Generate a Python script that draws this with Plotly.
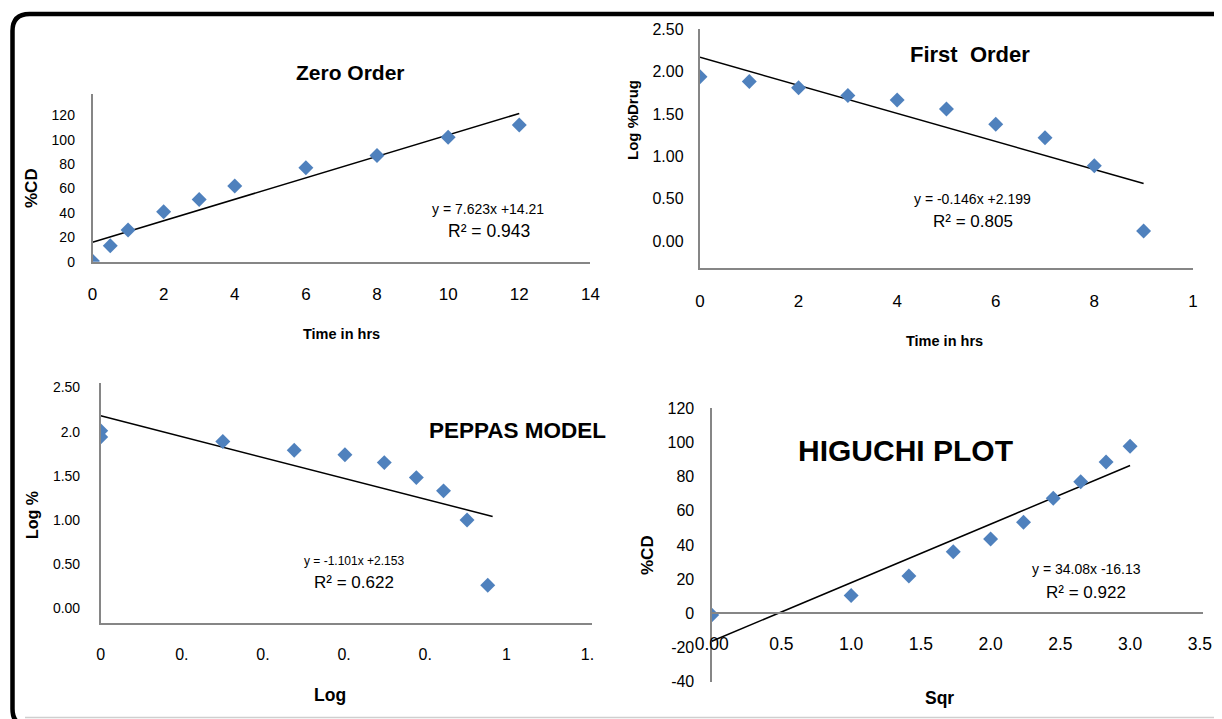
import plotly.graph_objects as go

W, H = 1222, 719
# the page body adds an 8px margin around the figure; pixel positions below are
# page positions, shifted back by this offset when converted to paper units
OX, OY = 8, 8

# ---------------- data ----------------
# Zero order
zero_time = [0, 0.5, 1, 2, 3, 4, 6, 8, 10, 12]
zero_cd = [0.5, 13, 26, 41, 51, 62, 77, 87, 102, 112]
zero_trend_x = [0, 12]
zero_trend_y = [16, 121.5]
zero_xticks = [0, 2, 4, 6, 8, 10, 12, 14]
zero_yticks = [0, 20, 40, 60, 80, 100, 120]

# First order
first_time = [0, 1, 2, 3, 4, 5, 6, 7, 8, 9]
first_logdrug = [1.94, 1.885, 1.81, 1.72, 1.665, 1.56, 1.38, 1.22, 0.89, 0.12]
first_trend_x = [0, 9]
first_trend_y = [2.17, 0.68]
first_xticks = [0, 2, 4, 6, 8, 10]
first_xticktext = ["0", "2", "4", "6", "8", "1"]
first_yticks = [0, 0.5, 1, 1.5, 2, 2.5]
first_yticktext = ["0.00", "0.50", "1.00", "1.50", "2.00", "2.50"]

# Peppas
peppas_logt = [0, 0, 0.301, 0.477, 0.602, 0.699, 0.778, 0.845, 0.903, 0.954]
peppas_log = [2.01, 1.94, 1.89, 1.79, 1.74, 1.65, 1.48, 1.33, 1.00, 0.26]
peppas_trend_x = [0, 0.966]
peppas_trend_y = [2.18, 1.04]
peppas_xticks = [0, 0.2, 0.4, 0.6, 0.8, 1.0, 1.2]
peppas_xticktext = ["0", "0.", "0.", "0.", "0.", "1", "1."]
peppas_yticks = [0, 0.5, 1, 1.5, 2, 2.5]
peppas_yticktext = ["0.00", "0.50", "1.00", "1.50", "2.0", "2.50"]

# Higuchi
higuchi_sqrt = [0, 1.0, 1.414, 1.732, 2.0, 2.236, 2.449, 2.646, 2.828, 3.0]
higuchi_cd = [-1, 10.4, 21.9, 36, 43.5, 53.3, 67.4, 77, 88.6, 97.8]
higuchi_trend_x = [0, 3.0]
higuchi_trend_y = [-16.3, 86.5]
higuchi_xticks = [0, 0.5, 1.0, 1.5, 2.0, 2.5, 3.0, 3.5]
higuchi_xticktext = ["0.00", "0.5", "1.0", "1.5", "2.0", "2.5", "3.0", "3.5"]
higuchi_yticks = [-40, -20, 0, 20, 40, 60, 80, 100, 120]

# ---------------- styling ----------------
SANS = "Liberation Sans, Arial, sans-serif"
BLUE = "#4F81BD"
AXIS_GREY = "#868686"


def fx(x):
    return (x - OX) / W


def fy(y):
    return 1 - (y - OY) / H


def px_x(a, b):
    return [fx(a), fx(b)]


def px_y(top, bottom):
    return [fy(bottom), fy(top)]


fig = go.Figure()

panels = [
    dict(n="", x=zero_time, y=zero_cd, tx=zero_trend_x, ty=zero_trend_y),
    dict(n="2", x=first_time, y=first_logdrug, tx=first_trend_x, ty=first_trend_y),
    dict(n="3", x=peppas_logt, y=peppas_log, tx=peppas_trend_x, ty=peppas_trend_y),
    dict(n="4", x=higuchi_sqrt, y=higuchi_cd, tx=higuchi_trend_x, ty=higuchi_trend_y),
]
for p in panels:
    fig.add_trace(go.Scatter(x=p["tx"], y=p["ty"], mode="lines",
                             line=dict(color="black", width=1.5),
                             xaxis="x" + p["n"], yaxis="y" + p["n"],
                             showlegend=False, hoverinfo="skip"))
    fig.add_trace(go.Scatter(x=p["x"], y=p["y"], mode="markers",
                             marker=dict(symbol="diamond", size=11.5, color=BLUE,
                                         line=dict(width=0)),
                             xaxis="x" + p["n"], yaxis="y" + p["n"],
                             showlegend=False))


def axis(dom, rng, tv, tt, fs, tl, anchor, position=None):
    d = dict(domain=dom, range=rng, anchor=anchor, showgrid=False, zeroline=False,
             showline=True, linecolor=AXIS_GREY, linewidth=1.5,
             ticks="outside", ticklen=tl, tickcolor="rgba(0,0,0,0)",
             tickmode="array", tickvals=tv, ticktext=tt, automargin=False,
             tickfont=dict(family=SANS, size=fs, color="black"), fixedrange=True)
    if position is not None:
        d["position"] = position
    return d


# Higuchi: x axis crosses at y = 0
h_top, h_bot = 408.3, 681.7
h_rng = [-40, 120]
h_zero_px = h_bot - (0 - h_rng[0]) / (h_rng[1] - h_rng[0]) * (h_bot - h_top)

fig.update_layout(
    width=W, height=H, autosize=False,
    margin=dict(l=0, r=0, t=0, b=0, pad=0, autoexpand=False),
    paper_bgcolor="white", plot_bgcolor="rgba(0,0,0,0)",
    xaxis=axis(px_x(92.5, 590.4), [0, 14], zero_xticks, [str(v) for v in zero_xticks], 17, 16.5, "y"),
    yaxis=axis(px_y(94, 261.7), [0, 137.5], zero_yticks, [str(v) for v in zero_yticks], 14, 13, "x"),
    xaxis2=axis(px_x(700, 1192.9), [0, 10], first_xticks, first_xticktext, 17, 16.5, "y2"),
    yaxis2=axis(px_y(29.3, 268.3), [-0.32, 2.5], first_yticks, first_yticktext, 16, 11.5, "x2"),
    xaxis3=axis(px_x(100.7, 591.6), [0, 1.21], peppas_xticks, peppas_xticktext, 16, 16, "y3"),
    yaxis3=axis(px_y(382.7, 623.3), [-0.17, 2.555], peppas_yticks, peppas_yticktext, 14, 16, "x3"),
    xaxis4=axis(px_x(711.7, 1202.6), [0, 3.52], higuchi_xticks, higuchi_xticktext, 17.5, 15, "free",
                position=fy(h_zero_px)),
    yaxis4=axis(px_y(h_top, h_bot), h_rng, higuchi_yticks, [str(v) for v in higuchi_yticks], 16, 12.5, "x4"),
)

annotations = []


def ann(text, x, y, size, bold=False, angle=0, xanchor="center"):
    annotations.append(dict(
        text=("<b>%s</b>" % text) if bold else text,
        x=fx(x), y=fy(y), xref="paper", yref="paper",
        xanchor=xanchor, yanchor="middle", showarrow=False, textangle=angle,
        font=dict(family=SANS, size=size, color="black")))


# Zero order
ann("Zero Order", 350, 73, 21, bold=True)
ann("%CD", 32, 188, 17, bold=True, angle=-90)
ann("Time in hrs", 341, 334, 14.5, bold=True)
ann("y = 7.623x +14.21", 488, 209, 14)
ann("R² = 0.943", 489, 231, 17.5)
# First order
ann("First  Order", 969.5, 54.3, 22, bold=True)
ann("Log %Drug", 632, 120, 15, bold=True, angle=-90)
ann("Time in hrs", 944, 341, 14.5, bold=True)
ann("y = -0.146x +2.199", 972.6, 199.3, 14)
ann("R² = 0.805", 972.6, 221.7, 17)
# Peppas
ann("PEPPAS MODEL", 427, 430, 22.5, bold=True, xanchor="left")
ann("Log %", 32, 515, 16, bold=True, angle=-90)
ann("Log", 330, 695, 17.5, bold=True)
ann("y = -1.101x +2.153", 354, 561, 12)
ann("R² = 0.622", 354, 582, 17)
# Higuchi
ann("HIGUCHI PLOT", 905, 450, 30, bold=True)
ann("%CD", 647, 555, 17, bold=True, angle=-90)
ann("Sqr", 940, 698, 17.5, bold=True)
ann("y = 34.08x -16.13", 1086, 569, 14)
ann("R² = 0.922", 1086, 592, 17)

fig.update_layout(annotations=annotations)


# Rounded frame (page pixel coordinates converted to paper)
def P(x, y):
    return "%.5f,%.5f" % (fx(x), fy(y))


L, T, B, R_ = 12.5, 14, 726, 1240
r = 17
path = ("M " + P(R_, T) + " L " + P(L + r, T) + " Q " + P(L, T) + " " + P(L, T + r) +
        " L " + P(L, B - r) + " Q " + P(L, B) + " " + P(L + r, B) + " L " + P(R_, B))
fig.add_shape(type="path", path=path, xref="paper", yref="paper",
              line=dict(color="black", width=4.5), layer="above")
fig.add_shape(type="line", x0=fx(25), x1=fx(1240), y0=fy(717.5), y1=fy(717.5),
              xref="paper", yref="paper", line=dict(color="#cfcfcf", width=1.5))

fig.write_html("out.html")
